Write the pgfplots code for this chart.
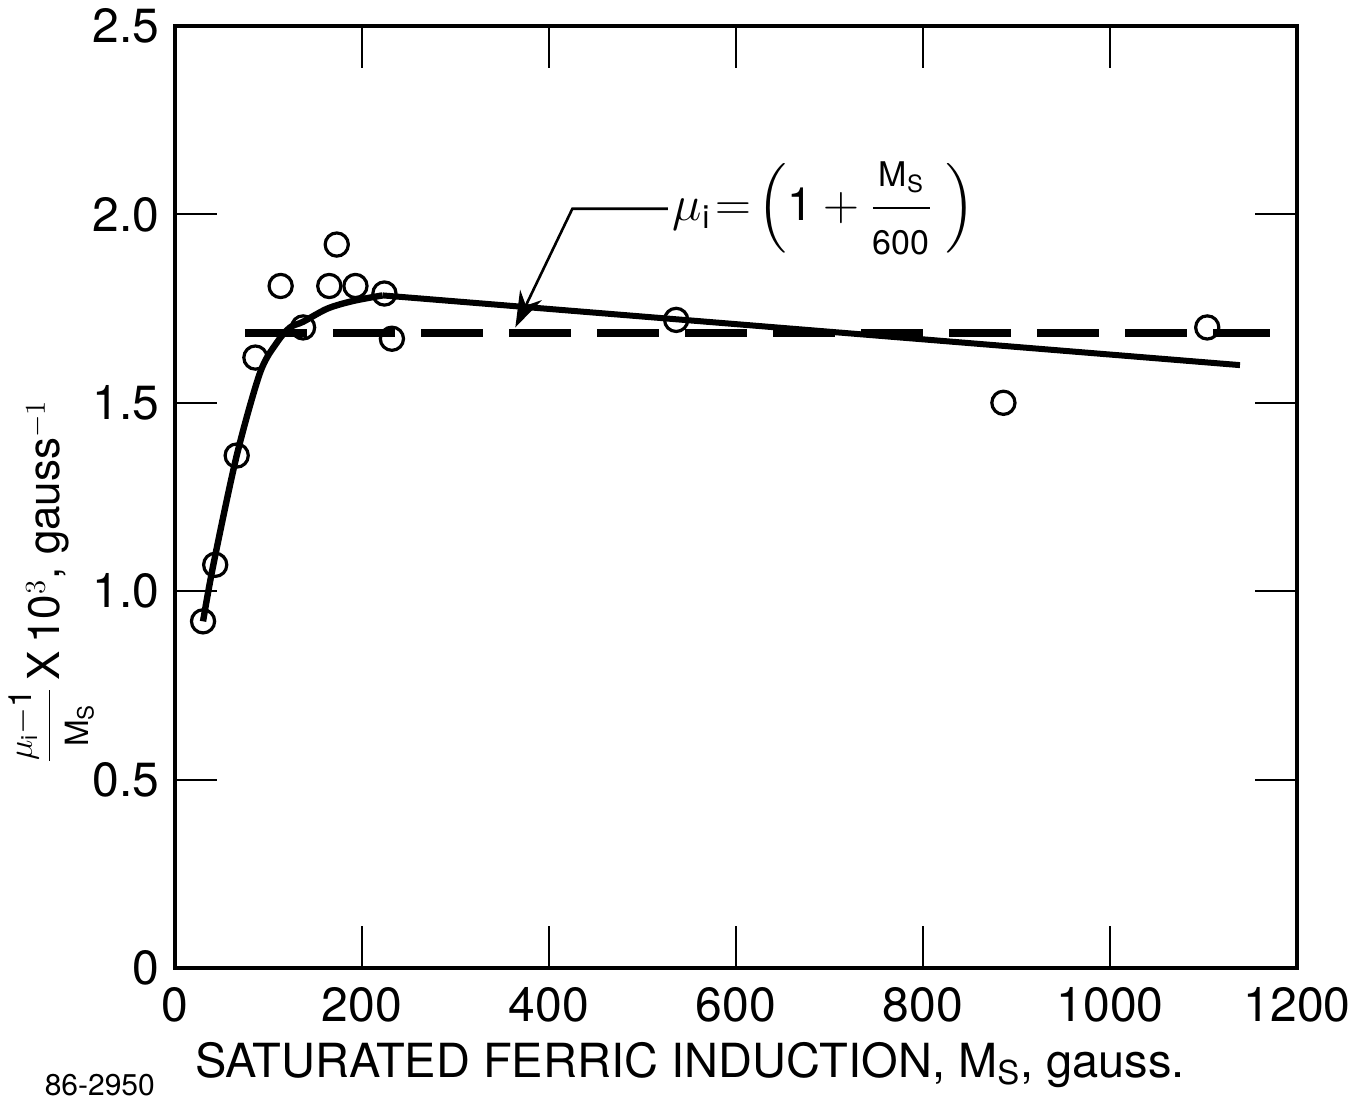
\documentclass[border=0pt]{standalone}
\usepackage{fontspec}
\setmainfont{TeX Gyre Heros}
\usepackage{amsmath}
\usepackage{pgfplots}
\pgfplotsset{compat=1.18}
\usetikzlibrary{arrows.meta}
\newcommand{\sm}[1]{\text{\fontsize{16}{18}\selectfont #1}}
\begin{document}
\fontsize{23}{27}\selectfont
\begin{tikzpicture}
\useasboundingbox (-87.5pt,-66.5pt) rectangle (591.5pt,484pt);
\begin{axis}[
  at={(0,0)}, anchor=south west,
  scale only axis, width=561pt, height=471pt,
  xmin=0, xmax=1200, ymin=0, ymax=2.5,
  xtick={0,200,...,1200}, ytick={0,0.5,1,1.5,2,2.5},
  xticklabels={0,200,400,600,800,1000,1200},
  yticklabels={0,0.5,1.0,1.5,2.0,2.5},
  tick align=inside, major tick length=21pt,
  tick style={line width=1pt, black},
  axis line style={line width=1.6pt},
  ticklabel style={font=\fontsize{24}{28}\selectfont},
  xticklabel style={yshift=-2pt},
  ylabel={$\dfrac{\sm{$\mu_{\text{i}}$$-$1}}{\sm{M$_{\text{S}}$}}$\,X\,10$^{3}$, gauss$^{-1}$},
  ylabel style={at={(axis description cs:-0.11,0.41)}, anchor=center, font=\fontsize{22}{26}\selectfont},
  xlabel={SATURATED FERRIC INDUCTION, M$_{\text{S}}$, gauss.},
  xlabel style={at={(axis description cs:0.459,-0.103)}, anchor=center, font=\fontsize{23.5}{27}\selectfont},
  clip=false,
]
% dashed line mu_i = (1 + Ms/600)
\addplot[black, line width=4pt, dash pattern=on 31pt off 13pt] coordinates {(75,1.685) (1171,1.685)};
% solid fitted curve
\addplot[black, line width=3.2pt, smooth, tension=0.5] coordinates {
 (30,0.92) (41,1.07) (66,1.36) (91,1.58) (109,1.66) (123,1.70) (137,1.715) (163,1.75) (190,1.77) (222,1.785)};
\addplot[black, line width=3pt] coordinates {(222,1.785) (1139,1.60)};
% data points
\addplot[only marks, mark=o, mark size=5.8pt, mark options={line width=1.6pt, fill=white, draw=black}] coordinates {
 (30,0.92) (43,1.07) (66,1.36) (86,1.62) (113,1.81) (137,1.70) (165,1.81) (173,1.92)
 (193,1.81) (224,1.79) (232,1.67) (536,1.72) (886,1.50) (1104,1.70)};
% annotation
\draw[line width=1.3pt, -{Stealth[length=18pt,width=12pt]}] (axis cs:527,2.015) -- (axis cs:425,2.015) -- (axis cs:364,1.70);
\node[anchor=west, font=\fontsize{23}{27}\selectfont, inner sep=1pt] at (axis cs:530,2.015)
  {$\mu_{\text{i}}\!=\!\left(\text{1}+\dfrac{\text{\fontsize{17}{20}\selectfont M$_{\text{S}}$}}{\text{\fontsize{17}{20}\selectfont 600}}\;\right)$};
\node[font=\fontsize{15}{18}\selectfont] at (axis description cs:-0.067,-0.124) {86-2950};
\end{axis}
\end{tikzpicture}
\end{document}
